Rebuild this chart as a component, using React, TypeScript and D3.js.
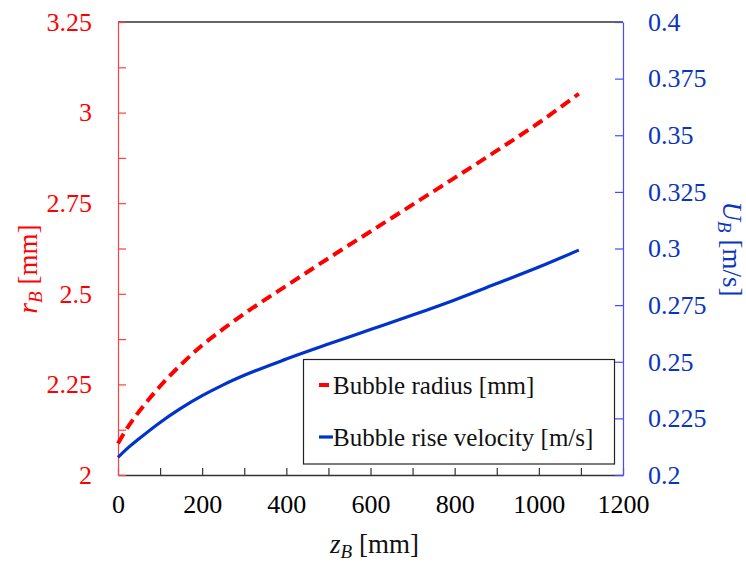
import React, { useEffect, useRef } from "react";
import * as d3 from "d3";

// distance from the nozzle z_B [mm]
const zB = [0, 25, 50, 100, 150, 200, 250, 300, 400, 500, 600, 700, 800, 900, 1000, 1095];
// bubble radius r_B [mm]
const rB = [2.087, 2.135, 2.175, 2.245, 2.305, 2.358, 2.403, 2.445, 2.522, 2.598, 2.672, 2.746, 2.82, 2.895, 2.972, 3.052];
// bubble rise velocity U_B [m/s]
const uB = [0.2078, 0.2122, 0.216, 0.2232, 0.2295, 0.235, 0.2398, 0.244, 0.2512, 0.2578, 0.2642, 0.2706, 0.2773, 0.2845, 0.2918, 0.2993];

const xTicks = [0, 100, 200, 300, 400, 500, 600, 700, 800, 900, 1000, 1100, 1200];
const leftTicks = [2, 2.125, 2.25, 2.375, 2.5, 2.625, 2.75, 2.875, 3, 3.125, 3.25];
const rightTicks = [0.2, 0.225, 0.25, 0.275, 0.3, 0.325, 0.35, 0.375, 0.4];

const legendItems = [
  { label: "Bubble radius [mm]", color: "#ff0000", len: 10 },
  { label: "Bubble rise velocity [m/s]", color: "#0033cc", len: 14 },
];

const FONT = "Liberation Serif, DejaVu Serif, serif";

function Chart() {
  const ref = useRef<SVGSVGElement>(null);

  useEffect(() => {
    const svg = d3.select(ref.current);
    svg.selectAll("*").remove();

    const width = 746;
    const height = 564;
    const margin = { top: 22, right: 123, bottom: 89, left: 118 };
    const x0 = margin.left;
    const x1 = width - margin.right;
    const y0 = height - margin.bottom;
    const y1 = margin.top;

    const x = d3.scaleLinear().domain([0, 1200]).range([x0, x1]);
    const yL = d3.scaleLinear().domain([2, 3.25]).range([y0, y1]);
    const yR = d3.scaleLinear().domain([0.2, 0.4]).range([y0, y1]);

    // top border
    svg.append("line")
      .attr("x1", x0).attr("x2", x1)
      .attr("y1", y1).attr("y2", y1)
      .attr("stroke", "#333").attr("stroke-width", 1.3);

    // bottom axis
    const gx = svg.append("g")
      .attr("transform", `translate(0,${y0})`)
      .call(
        d3.axisBottom(x)
          .tickValues(xTicks)
          .tickSizeInner(-7)
          .tickSizeOuter(0)
          .tickPadding(20)
          .tickFormat((d) => ((d as number) % 200 === 0 ? String(d) : ""))
      );
    gx.attr("font-family", FONT).attr("font-size", 26);
    gx.select(".domain").attr("stroke", "#333").attr("stroke-width", 1.5);
    gx.selectAll(".tick line").attr("stroke", "#333").attr("stroke-width", 1.2);
    gx.selectAll("text").attr("fill", "#000");

    // left axis
    const gl = svg.append("g")
      .attr("transform", `translate(${x0},0)`)
      .call(
        d3.axisLeft(yL)
          .tickValues(leftTicks)
          .tickSizeInner(-8)
          .tickSizeOuter(0)
          .tickPadding(26)
          .tickFormat((d) => {
            const v = d as number;
            return Math.abs(v * 4 - Math.round(v * 4)) < 1e-6 ? String(+v.toFixed(2)) : "";
          })
      );
    gl.attr("font-family", FONT).attr("font-size", 26);
    gl.select(".domain").attr("stroke", "#ff4040").attr("stroke-width", 1.2);
    gl.selectAll(".tick line").attr("stroke", "#ff4040").attr("stroke-width", 1.2);
    gl.selectAll("text").attr("fill", "#ff0000");

    // right axis
    const gr = svg.append("g")
      .attr("transform", `translate(${x1},0)`)
      .call(
        d3.axisRight(yR)
          .tickValues(rightTicks)
          .tickSizeInner(-8)
          .tickSizeOuter(0)
          .tickPadding(25)
          .tickFormat((d) => String(+(d as number).toFixed(3)))
      );
    gr.attr("font-family", FONT).attr("font-size", 26);
    gr.select(".domain").attr("stroke", "#4a4aff").attr("stroke-width", 1.2);
    gr.selectAll(".tick line").attr("stroke", "#4a4aff").attr("stroke-width", 1.2);
    gr.selectAll("text").attr("fill", "#0a35c0");

    // curves
    const lineR = d3.line<number>()
      .x((_, i) => x(zB[i]))
      .y((d) => yL(d))
      .curve(d3.curveMonotoneX);
    const lineU = d3.line<number>()
      .x((_, i) => x(zB[i]))
      .y((d) => yR(d))
      .curve(d3.curveMonotoneX);

    svg.append("path")
      .datum(uB)
      .attr("fill", "none")
      .attr("stroke", "#0033cc")
      .attr("stroke-width", 3.2)
      .attr("d", lineU);

    svg.append("path")
      .datum(rB)
      .attr("fill", "none")
      .attr("stroke", "#ff0000")
      .attr("stroke-width", 4)
      .attr("stroke-dasharray", "11,6")
      .attr("d", lineR);

    // legend
    const lg = svg.append("g").attr("font-family", FONT);
    lg.append("rect")
      .attr("x", 303.5).attr("y", 359.5)
      .attr("width", 311).attr("height", 104.5)
      .attr("fill", "#fff")
      .attr("stroke", "#222")
      .attr("stroke-width", 1.2);
    legendItems.forEach((it, i) => {
      const cy = 385 + i * 52;
      lg.append("line")
        .attr("x1", 319).attr("x2", 319 + it.len)
        .attr("y1", cy).attr("y2", cy)
        .attr("stroke", it.color)
        .attr("stroke-width", i === 0 ? 4 : 3.2);
      lg.append("text")
        .attr("x", 333).attr("y", cy + 8.5)
        .attr("font-size", 25)
        .attr("fill", "#111")
        .text(it.label);
    });

    // axis titles
    const titles = svg.append("g").attr("font-family", FONT).attr("font-size", 27);

    const xt = titles.append("text")
      .attr("x", (x0 + x1) / 2 + 4)
      .attr("y", 553)
      .attr("text-anchor", "middle")
      .attr("fill", "#111");
    xt.append("tspan").attr("font-style", "italic").text("z");
    xt.append("tspan").attr("font-style", "italic").attr("font-size", 19).attr("dy", 5).text("B");
    xt.append("tspan").attr("dy", -5).text(" [mm]");

    const lt = titles.append("text")
      .attr("transform", `translate(37,269) rotate(-90)`)
      .attr("text-anchor", "middle")
      .attr("fill", "#ff0000");
    lt.append("tspan").attr("font-style", "italic").text("r");
    lt.append("tspan").attr("font-style", "italic").attr("font-size", 19).attr("dy", 5).text("B");
    lt.append("tspan").attr("dy", -5).text(" [mm]");

    const rt = titles.append("text")
      .attr("transform", `translate(723,249) rotate(90)`)
      .attr("text-anchor", "middle")
      .attr("fill", "#0a35c0");
    rt.append("tspan").attr("font-style", "italic").text("U");
    rt.append("tspan").attr("font-style", "italic").attr("font-size", 19).attr("dy", 5).text("B");
    rt.append("tspan").attr("dy", -5).text(" [m/s]");
  }, []);

  return (
    <svg
      ref={ref}
      width={746}
      height={564}
      style={{ position: "absolute", left: 0, top: 0, background: "#fff" }}
    />
  );
}

export default function App() {
  return <Chart />;
}
